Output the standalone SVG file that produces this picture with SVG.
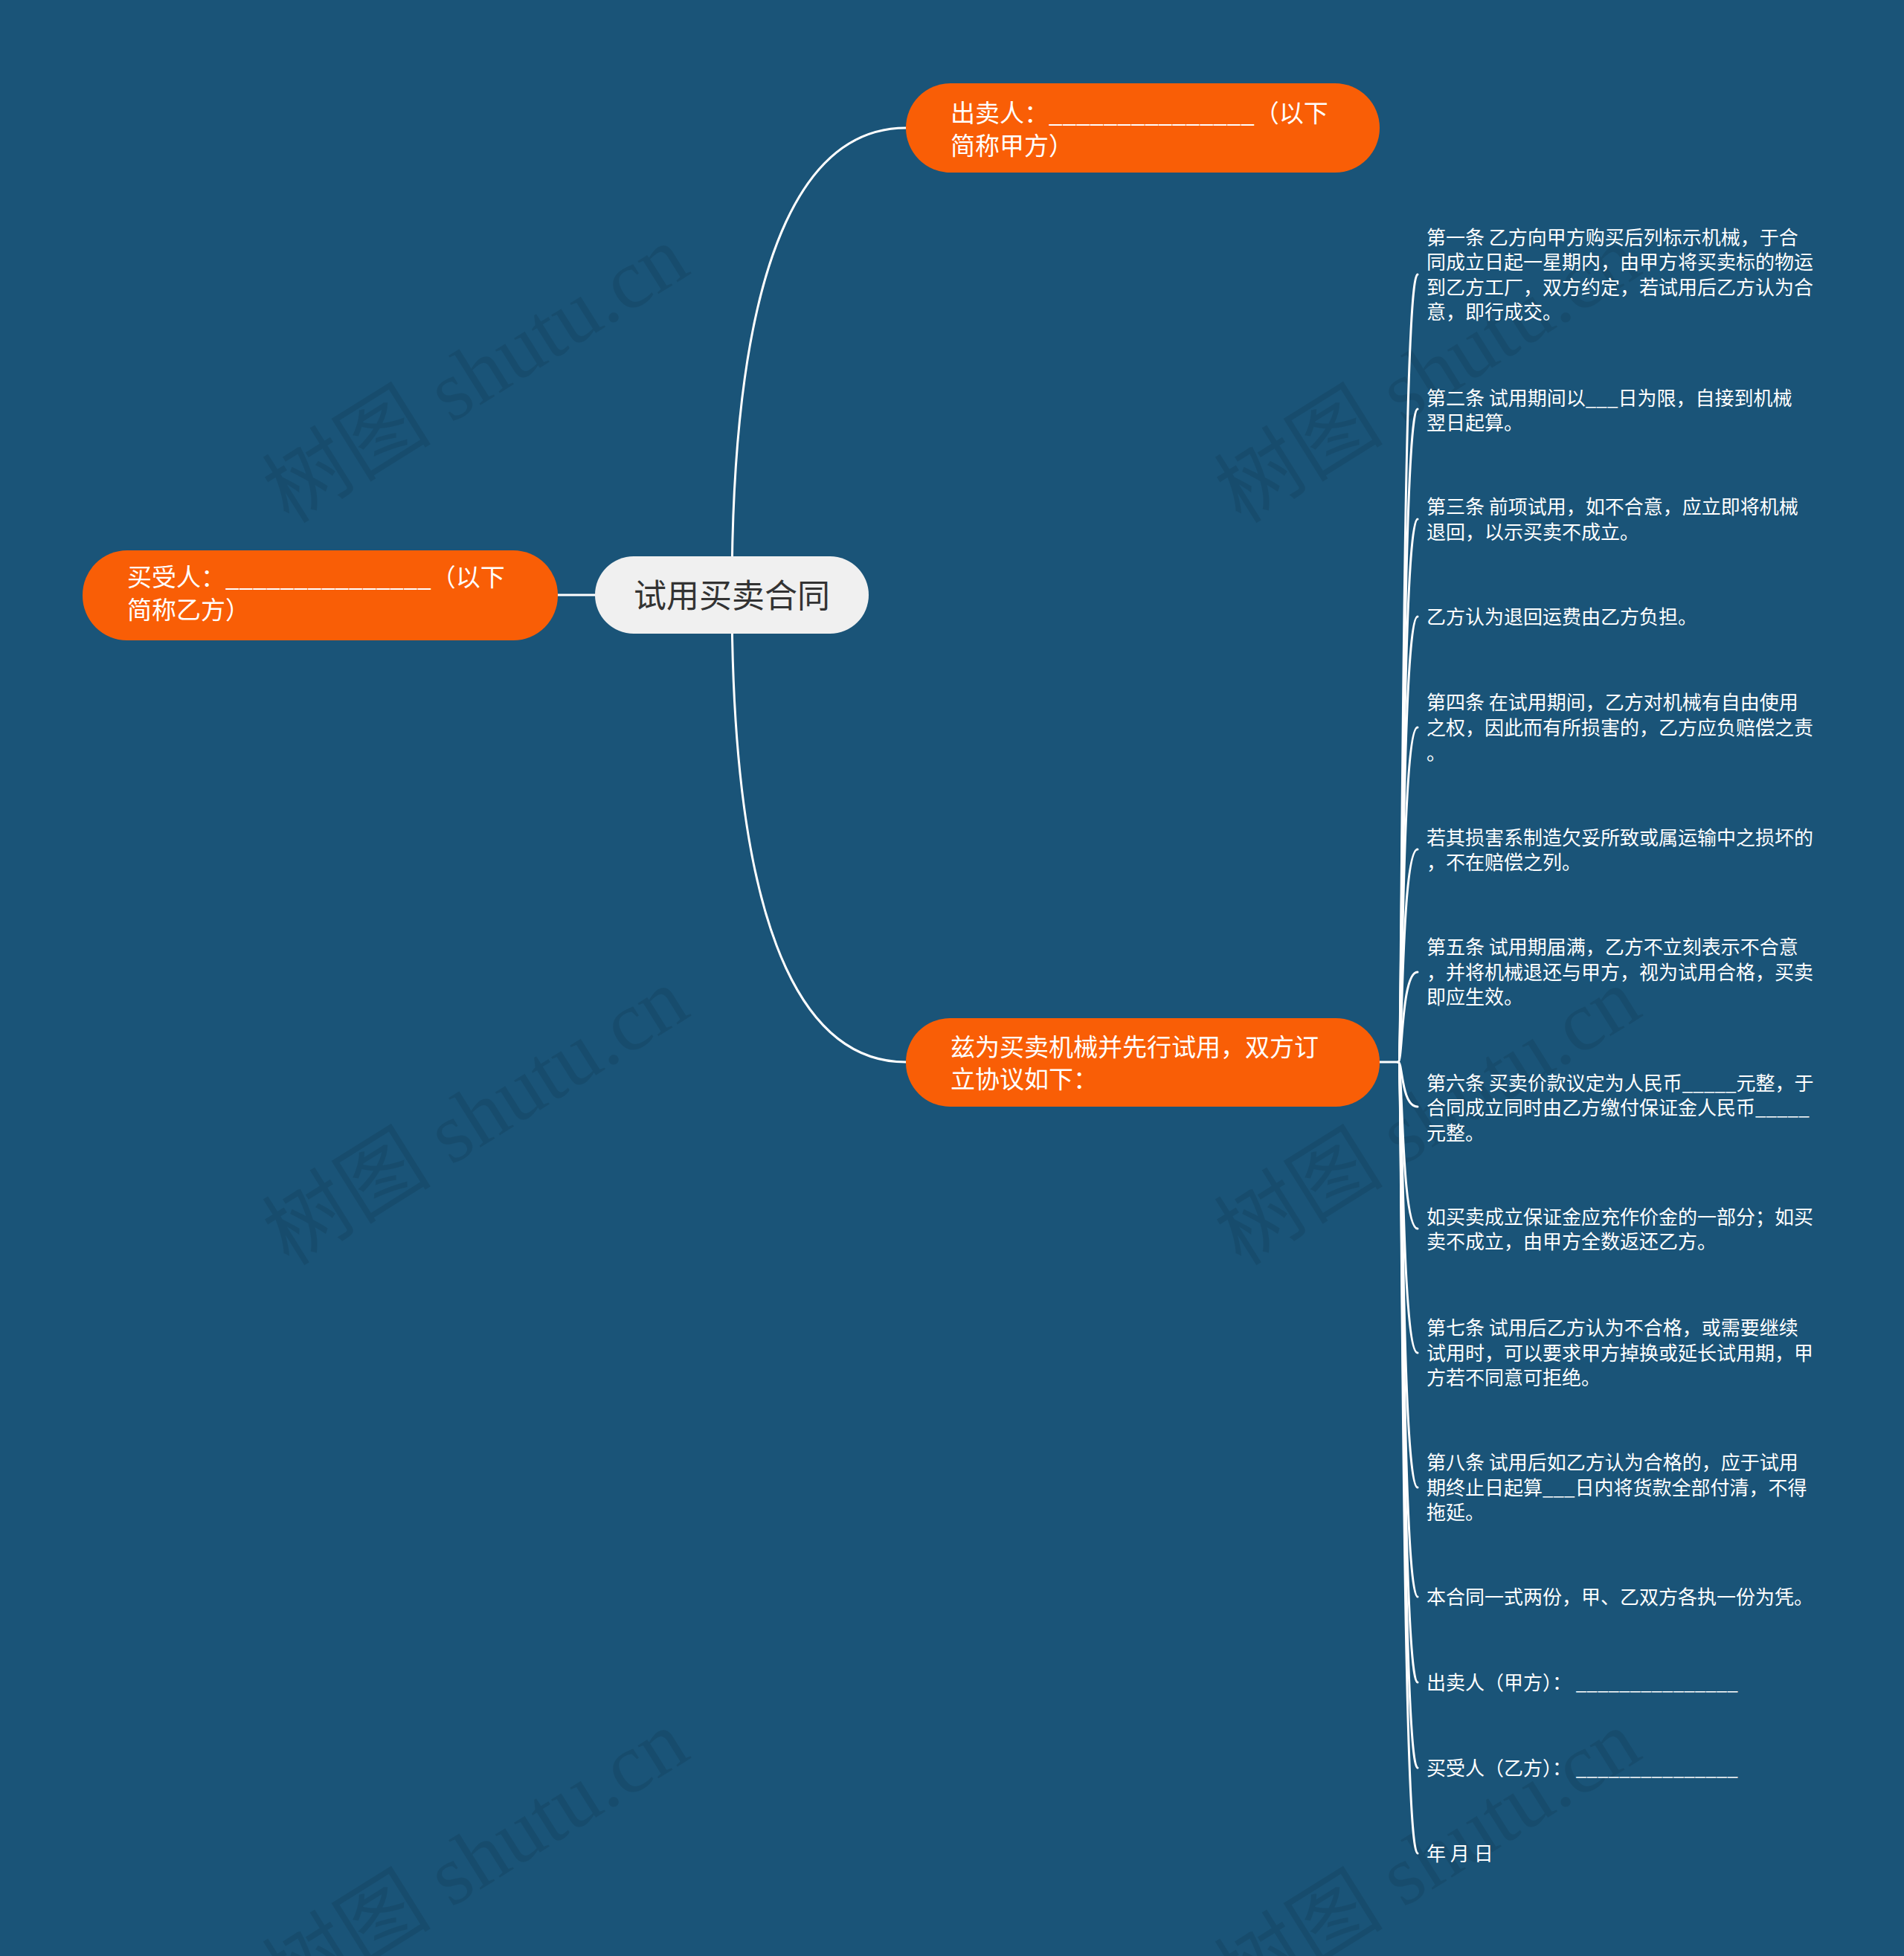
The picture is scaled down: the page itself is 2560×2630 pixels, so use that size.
<svg xmlns="http://www.w3.org/2000/svg" width="2560" height="2630" viewBox="0 0 2560 2630">
<style>
.wm{font-family:"Liberation Serif","Noto Sans CJK SC",serif;font-size:114px;fill:#000000;fill-opacity:0.085;text-anchor:middle}
.conn{fill:none;stroke:#ffffff;stroke-width:3;stroke-linecap:round}
.main{fill:#f95e06}
.mt{font-family:"Noto Sans CJK SC","Liberation Sans",sans-serif;font-size:33px;fill:#ffffff}
.ct{font-family:"Noto Sans CJK SC","Liberation Sans",sans-serif;font-size:44px;fill:#333333;text-anchor:middle}
.lt{font-family:"Noto Sans CJK SC","Liberation Sans",sans-serif;font-size:26px;fill:#ffffff}
</style>
<rect x="0" y="0" width="2560" height="2630" fill="#1a5478"/>
<g id="watermarks">
<text class="wm" transform="translate(660,536) rotate(-32)">树图 shutu.cn</text>
<text class="wm" transform="translate(660,1534) rotate(-32)">树图 shutu.cn</text>
<text class="wm" transform="translate(660,2532) rotate(-32)">树图 shutu.cn</text>
<text class="wm" transform="translate(1940,536) rotate(-32)">树图 shutu.cn</text>
<text class="wm" transform="translate(1940,1534) rotate(-32)">树图 shutu.cn</text>
<text class="wm" transform="translate(1940,2532) rotate(-32)">树图 shutu.cn</text>
</g>
<g id="connectors">
<path class="conn" d="M984 800 C984 300 1100 172 1218 172"/>
<path class="conn" d="M984 800 C984 1300 1100 1428 1218 1428"/>
<path class="conn" d="M750 800 H800"/>
<path class="conn" d="M1855 1428 H1880"/>
<path class="conn" d="M1880 1428 C1886 1428 1884 369 1906 369"/>
<path class="conn" d="M1880 1428 C1886 1428 1884 550 1906 550"/>
<path class="conn" d="M1880 1428 C1886 1428 1884 698 1906 698"/>
<path class="conn" d="M1880 1428 C1886 1428 1884 829 1906 829"/>
<path class="conn" d="M1880 1428 C1886 1428 1884 978 1906 978"/>
<path class="conn" d="M1880 1428 C1886 1428 1884 1142 1906 1142"/>
<path class="conn" d="M1880 1428 C1886 1428 1884 1307 1906 1307"/>
<path class="conn" d="M1880 1428 C1886 1428 1884 1488 1906 1488"/>
<path class="conn" d="M1880 1428 C1886 1428 1884 1652 1906 1652"/>
<path class="conn" d="M1880 1428 C1886 1428 1884 1819 1906 1819"/>
<path class="conn" d="M1880 1428 C1886 1428 1884 2000 1906 2000"/>
<path class="conn" d="M1880 1428 C1886 1428 1884 2147 1906 2147"/>
<path class="conn" d="M1880 1428 C1886 1428 1884 2262 1906 2262"/>
<path class="conn" d="M1880 1428 C1886 1428 1884 2377 1906 2377"/>
<path class="conn" d="M1880 1428 C1886 1428 1884 2492 1906 2492"/>
</g>
<g id="root">
<rect x="800" y="748" width="368" height="104" rx="52" fill="#f0f0f0"/>
<text class="ct" x="984" y="817">试用买卖合同</text>
</g>
<g id="seller">
<rect class="main" x="1218" y="112" width="637" height="120" rx="60"/>
<text class="mt"><tspan x="1278" y="164">出卖人：_______________（以下</tspan><tspan x="1278" y="208">简称甲方）</tspan></text>
</g>
<g id="buyer">
<rect class="main" x="111" y="740" width="639" height="121" rx="60"/>
<text class="mt"><tspan x="171" y="788">买受人：_______________（以下</tspan><tspan x="171" y="832">简称乙方）</tspan></text>
</g>
<g id="agreement">
<rect class="main" x="1218" y="1369" width="637" height="119" rx="59"/>
<text class="mt"><tspan x="1278" y="1420">兹为买卖机械并先行试用，双方订</tspan><tspan x="1278" y="1463">立协议如下：</tspan></text>
</g>
<g id="item1"><text class="lt"><tspan x="1918" y="329">第一条 乙方向甲方购买后列标示机械，于合</tspan><tspan x="1918" y="362">同成立日起一星期内，由甲方将买卖标的物运</tspan><tspan x="1918" y="396">到乙方工厂，双方约定，若试用后乙方认为合</tspan><tspan x="1918" y="429">意，即行成交。</tspan></text></g>
<g id="item2"><text class="lt"><tspan x="1918" y="545">第二条 试用期间以___日为限，自接到机械</tspan><tspan x="1918" y="578">翌日起算。</tspan></text></g>
<g id="item3"><text class="lt"><tspan x="1918" y="691">第三条 前项试用，如不合意，应立即将机械</tspan><tspan x="1918" y="725">退回，以示买卖不成立。</tspan></text></g>
<g id="item4"><text class="lt"><tspan x="1918" y="839">乙方认为退回运费由乙方负担。</tspan></text></g>
<g id="item5"><text class="lt"><tspan x="1918" y="954">第四条 在试用期间，乙方对机械有自由使用</tspan><tspan x="1918" y="988">之权，因此而有所损害的，乙方应负赔偿之责</tspan><tspan x="1918" y="1022">。</tspan></text></g>
<g id="item6"><text class="lt"><tspan x="1918" y="1136">若其损害系制造欠妥所致或属运输中之损坏的</tspan><tspan x="1918" y="1169">，不在赔偿之列。</tspan></text></g>
<g id="item7"><text class="lt"><tspan x="1918" y="1283">第五条 试用期届满，乙方不立刻表示不合意</tspan><tspan x="1918" y="1317">，并将机械退还与甲方，视为试用合格，买卖</tspan><tspan x="1918" y="1350">即应生效。</tspan></text></g>
<g id="item8"><text class="lt"><tspan x="1918" y="1466">第六条 买卖价款议定为人民币_____元整，于</tspan><tspan x="1918" y="1499">合同成立同时由乙方缴付保证金人民币_____</tspan><tspan x="1918" y="1533">元整。</tspan></text></g>
<g id="item9"><text class="lt"><tspan x="1918" y="1646">如买卖成立保证金应充作价金的一部分；如买</tspan><tspan x="1918" y="1679">卖不成立，由甲方全数返还乙方。</tspan></text></g>
<g id="item10"><text class="lt"><tspan x="1918" y="1795">第七条 试用后乙方认为不合格，或需要继续</tspan><tspan x="1918" y="1829">试用时，可以要求甲方掉换或延长试用期，甲</tspan><tspan x="1918" y="1862">方若不同意可拒绝。</tspan></text></g>
<g id="item11"><text class="lt"><tspan x="1918" y="1976">第八条 试用后如乙方认为合格的，应于试用</tspan><tspan x="1918" y="2010">期终止日起算___日内将货款全部付清，不得</tspan><tspan x="1918" y="2043">拖延。</tspan></text></g>
<g id="item12"><text class="lt"><tspan x="1918" y="2157">本合同一式两份，甲、乙双方各执一份为凭。</tspan></text></g>
<g id="item13"><text class="lt"><tspan x="1918" y="2272">出卖人（甲方）： _______________</tspan></text></g>
<g id="item14"><text class="lt"><tspan x="1918" y="2387">买受人（乙方）： _______________</tspan></text></g>
<g id="item15"><text class="lt"><tspan x="1918" y="2502">年 月 日</tspan></text></g>
</svg>
